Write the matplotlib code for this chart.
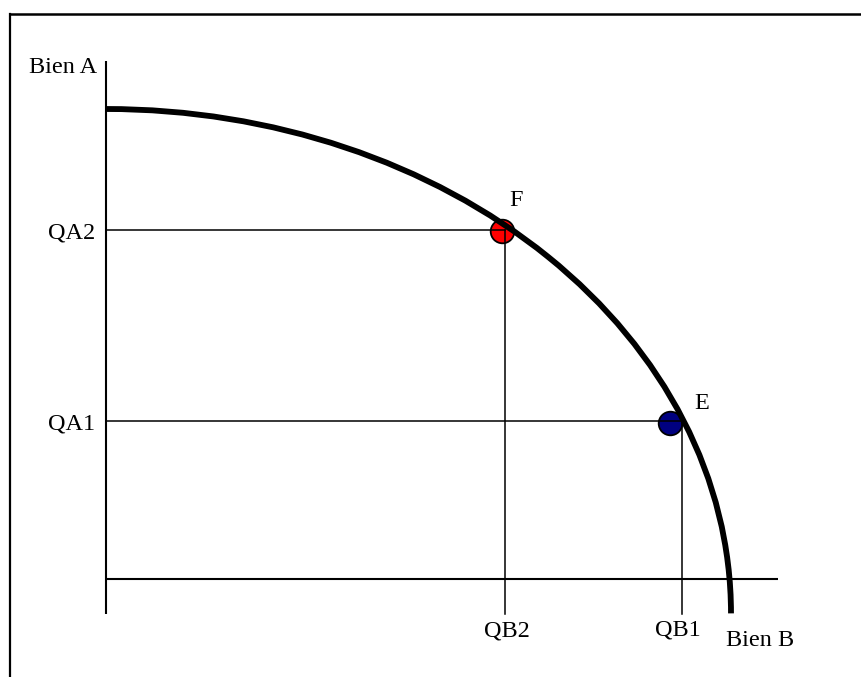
import matplotlib
matplotlib.use("Agg")
import matplotlib.pyplot as plt
from matplotlib.patches import Arc
from matplotlib.lines import Line2D

plt.rcParams['font.family'] = ['Liberation Serif', 'DejaVu Serif']

# frontier (elliptical arc): intercepts
frontier_max_b = 100.0   # where the curve meets the bottom
frontier_max_a = 75.2    # height of the curve at B = 0
frontier_base = -5.5     # the arc is drawn a little below the B axis

# the two points and their guide values
point_names = ['F', 'E']
point_b = [63.4, 90.2]
point_a = [55.7, 25.0]
point_colors = ['#ff0000', '#000080']
qb_labels = ['QB2', 'QB1']
qb_values = [63.8, 92.2]
qa_labels = ['QA2', 'QA1']
qa_values = [55.8, 25.3]

fig = plt.figure(figsize=(8.61, 6.77), dpi=100)
ax = fig.add_axes([0, 0, 1, 1])
ax.set_xlim(-16.96, 120.8)
ax.set_ylim(-15.68, 92.64)
ax.axis('off')

# outer frame (left and top only visible)
fig.add_artist(Line2D([10 / 861, 10 / 861], [0, 1 - 13.5 / 677], color='black', lw=1.6))
fig.add_artist(Line2D([10 / 861, 1], [1 - 13.5 / 677, 1 - 13.5 / 677], color='black', lw=1.8))

# axes
ax.plot([0, 0], [-5.6, 82.9], color='black', lw=1.5, solid_capstyle='butt')
ax.plot([0, 107.5], [0, 0], color='black', lw=1.5, solid_capstyle='butt')

# points
for b, a, c in zip(point_b, point_a, point_colors):
    ax.plot(b, a, 'o', ms=17, mfc=c, mec='black', mew=1.3, zorder=2)

# guide lines
for qb, qa in zip(qb_values, qa_values):
    ax.plot([0, qb], [qa, qa], color='black', lw=1.1, zorder=3)
    ax.plot([qb, qb], [qa, -5.6], color='black', lw=1.1, zorder=3)

# frontier
arc = Arc((0, frontier_base), 2 * frontier_max_b, 2 * (frontier_max_a - frontier_base),
          theta1=0, theta2=90, color='black', lw=4.2, zorder=4)
ax.add_patch(arc)

fs = 17.5
ax.text(-1.44, 80.96, 'Bien A', fontsize=fs, ha='right', va='baseline')
for lab, qa in zip(qa_labels, qa_values):
    ax.text(-1.76, qa - 1.35, lab, fontsize=fs, ha='right', va='baseline')
ax.text(qb_values[0] + 0.4, -9.2, qb_labels[0], fontsize=fs, ha='center', va='baseline')
ax.text(qb_values[1] - 0.7, -9.1, qb_labels[1], fontsize=fs, ha='center', va='baseline')
ax.text(99.2, -10.72, 'Bien B', fontsize=fs, ha='left', va='baseline')
ax.text(point_b[0] + 1.1, point_a[0] + 4.0, point_names[0], fontsize=fs, ha='left', va='baseline')
ax.text(point_b[1] + 3.9, point_a[1] + 2.2, point_names[1], fontsize=fs, ha='left', va='baseline')

fig.savefig('out.png', dpi=100)
